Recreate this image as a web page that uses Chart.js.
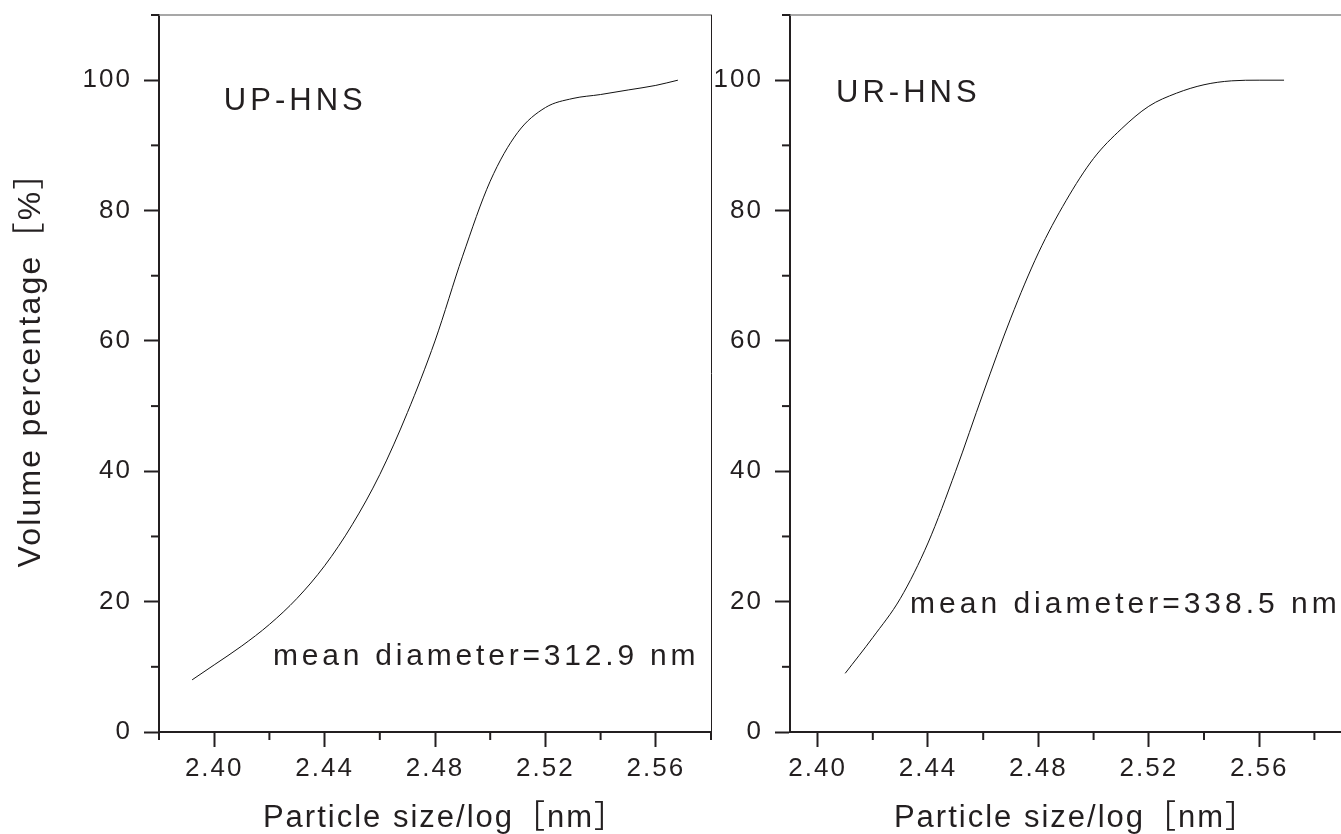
<!DOCTYPE html>
<html><head><meta charset="utf-8">
<script src="https://cdn.jsdelivr.net/npm/chart.js@4/dist/chart.umd.min.js"></script>
<style>
html,body{margin:0;padding:0;background:#fff;overflow:hidden;width:1341px;height:834px}
#l{position:absolute;left:0;top:0;width:720px;height:834px}
#r{position:absolute;left:715px;top:0;width:640px;height:834px}
</style></head><body>
<div id="l"><canvas id="cl"></canvas></div>
<div id="r"><canvas id="cr"></canvas></div>
<script>
// ---- data ----
const upX = [2.392, 2.40, 2.41, 2.42, 2.43, 2.44, 2.45, 2.46, 2.47, 2.48, 2.49, 2.50, 2.51, 2.52, 2.53, 2.54, 2.55, 2.56, 2.568];
const upY = [8, 10.3, 13.2, 16.5, 20.5, 25.5, 31.8, 39.5, 49, 60, 73, 84.5, 92, 95.8, 97.2, 97.8, 98.5, 99.2, 100];
const urX = [2.41, 2.42, 2.43, 2.44, 2.45, 2.46, 2.47, 2.48, 2.49, 2.50, 2.51, 2.52, 2.53, 2.54, 2.55, 2.56, 2.569];
const urY = [9, 14.5, 20.5, 29, 40, 52, 63.5, 73.5, 81.5, 88, 92.5, 96, 98, 99.3, 99.9, 100, 100];
const yMajor = [0, 20, 40, 60, 80, 100];
const yMinor = [10, 30, 50, 70, 90, 110];
const xMajor = [2.40, 2.44, 2.48, 2.52, 2.56];
const xMinorLeft = [2.38, 2.42, 2.46, 2.50, 2.54, 2.58];
const xMinorRight = [2.42, 2.46, 2.50, 2.54, 2.58];

const INK = '#231f20';
const FONT = '"Liberation Sans", Arial, "Noto Sans CJK SC", sans-serif';

function txt(ctx, s, x, y, size, spacing, align, baseline, rot) {
  ctx.save();
  ctx.font = size + 'px ' + FONT;
  ctx.fillStyle = INK;
  ctx.letterSpacing = spacing + 'px';
  ctx.textAlign = align;
  ctx.textBaseline = baseline;
  ctx.translate(x, y);
  if (rot) ctx.rotate(rot);
  ctx.fillText(s, 0, 0);
  ctx.restore();
}

function makeChart(id, xs, ys, cfg) {
  const pts = xs.map((x, i) => ({x: x, y: ys[i]}));
  const deco = {
    id: 'deco',
    beforeDraw(chart) { chart.ctx.letterSpacing = '2px'; },
    afterDraw(chart) {
      const ctx = chart.ctx, a = chart.chartArea;
      const xs_ = chart.scales.x, ys_ = chart.scales.y;
      ctx.save();
      ctx.letterSpacing = '0px';
      // top border
      ctx.strokeStyle = '#8a8a8a'; ctx.lineWidth = 1.5;
      ctx.beginPath(); ctx.moveTo(a.left, a.top); ctx.lineTo(a.right + 1, a.top); ctx.stroke();
      // right border
      ctx.strokeStyle = INK; ctx.lineWidth = 1;
      ctx.beginPath(); ctx.moveTo(a.right + 0.5, a.top); ctx.lineTo(a.right + 0.5, a.bottom); ctx.stroke();
      // minor ticks
      ctx.lineWidth = 2; ctx.strokeStyle = INK;
      cfg.xMinor.forEach(v => {
        const p = xs_.getPixelForValue(v);
        ctx.beginPath(); ctx.moveTo(p, a.bottom); ctx.lineTo(p, a.bottom + 8); ctx.stroke();
      });
      yMinor.forEach(v => {
        const p = ys_.getPixelForValue(v);
        ctx.beginPath(); ctx.moveTo(a.left, p); ctx.lineTo(a.left - 8, p); ctx.stroke();
      });
      ctx.restore();
      // axis titles
      const cx = (a.left + a.right) / 2;
      txt(ctx, 'Particle size/log［nm］', cx + 10, 827, 31, 2, 'center', 'alphabetic');
      if (cfg.yTitle) {
        txt(ctx, cfg.yTitle, 39.5, (a.top + a.bottom) / 2 - 12, 32, 2.2, 'center', 'alphabetic', -Math.PI / 2);
      }
      // annotations
      cfg.notes.forEach(n => {
        txt(ctx, n.text, xs_.getPixelForValue(n.x), ys_.getPixelForValue(n.y), n.size, n.spacing, 'left', 'alphabetic');
      });
    }
  };
  return new Chart(document.getElementById(id), {
    type: 'line',
    data: { datasets: [{ data: pts, borderColor: '#111', borderWidth: 1, pointRadius: 0, cubicInterpolationMode: 'monotone', fill: false }] },
    options: {
      responsive: true, maintainAspectRatio: false, animation: false,
      layout: { padding: { left: 0, right: cfg.padRight, top: 15, bottom: 0 } },
      plugins: { legend: { display: false }, tooltip: { enabled: false } },
      scales: {
        x: {
          type: 'linear', min: cfg.xMin, max: cfg.xMax,
          afterBuildTicks: s => { s.ticks = xMajor.map(v => ({value: v})); },
          afterFit: s => { s.height = 102; s.paddingLeft = 0; s.paddingRight = 0; },
          border: { display: true, color: INK, width: 2 },
          grid: { drawOnChartArea: false, drawTicks: true, tickLength: 15, tickWidth: 2, tickColor: INK },
          ticks: { color: INK, padding: 6, maxRotation: 0, autoSkip: false, font: { size: 26, family: FONT }, callback: v => Number(v).toFixed(2) }
        },
        y: {
          type: 'linear', min: 0, max: 110,
          afterBuildTicks: s => { s.ticks = yMajor.map(v => ({value: v})); },
          afterFit: s => { s.width = cfg.yWidth; s.paddingTop = 0; s.paddingBottom = 0; },
          border: { display: true, color: INK, width: 2 },
          grid: { drawOnChartArea: false, drawTicks: true, tickLength: 15, tickWidth: 2, tickColor: INK },
          ticks: { color: INK, padding: 12, font: { size: 26, family: FONT }, callback: v => String(v) }
        }
      }
    },
    plugins: [deco]
  });
}

makeChart('cl', upX, upY, {
  xMin: 2.38, xMax: 2.58, yWidth: 159, padRight: 9, xMinor: xMinorLeft,
  yTitle: 'Volume percentage［%］',
  notes: [
    { text: 'UP-HNS', x: 2.4035, y: 95.5, size: 31, spacing: 4 },
    { text: 'mean diameter=312.9 nm', x: 2.4213, y: 10.3, size: 30, spacing: 3.8 }
  ]
});
makeChart('cr', urX, urY, {
  xMin: 2.39, xMax: 2.59, yWidth: 75, padRight: 13, xMinor: xMinorRight,
  yTitle: null,
  notes: [
    { text: 'UR-HNS', x: 2.4067, y: 96.7, size: 31, spacing: 4 },
    { text: 'mean diameter=338.5 nm', x: 2.4335, y: 18.3, size: 30, spacing: 4 }
  ]
});
</script>
</body></html>
